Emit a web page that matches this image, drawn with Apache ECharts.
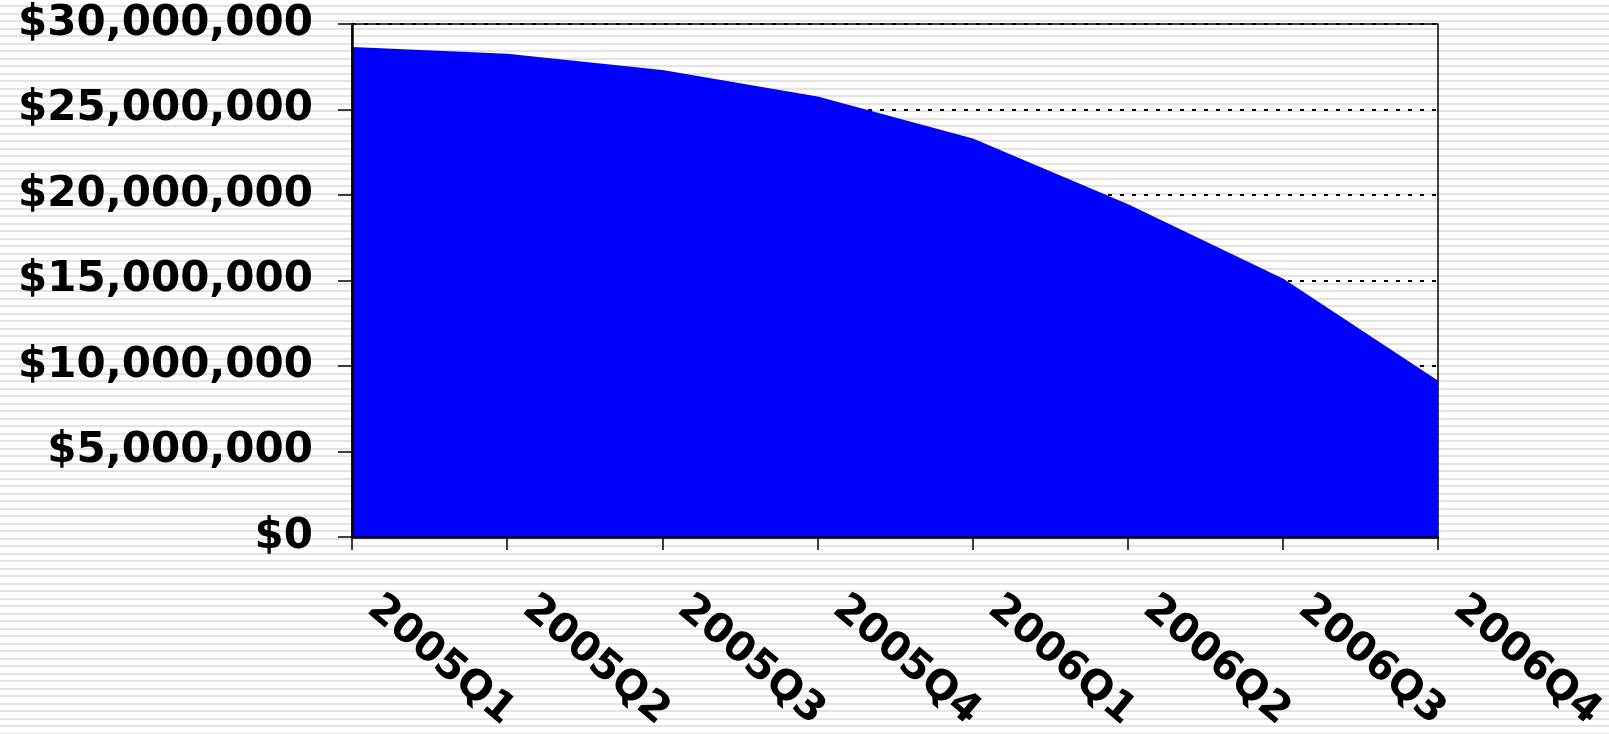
<!DOCTYPE html>
<html>
<head>
<meta charset="utf-8">
<script src="https://cdn.jsdelivr.net/npm/echarts@6/dist/echarts.min.js"></script>
<style>
  html, body {
    margin: 0;
    padding: 0;
    width: 1609px;
    height: 734px;
    background-color: #fff;
    background-image: repeating-linear-gradient(to bottom, #fff 0px, #fff 5.5px, #e3e3e3 5.5px, #e3e3e3 7.5px);
  }
  #chart { width: 1609px; height: 734px; }
</style>
</head>
<body>
<div id="chart"></div>
<script>
// quarters on the x axis
const quarters = ['2005Q1', '2005Q2', '2005Q3', '2005Q4', '2006Q1', '2006Q2', '2006Q3', '2006Q4']
// value per quarter
const values = [28600000, 28200000, 27250000, 25700000, 23250000, 19400000, 15050000, 9080000]
// y axis range
const yMin = 0
const yMax = 30000000
const yStep = 5000000

const labelFont = 'DejaVu Sans'

function money(v) {
  return '$' + String(v).replace(/\B(?=(\d{3})+(?!\d))/g, ',')
}

const chart = echarts.init(document.getElementById('chart'), null, { renderer: 'canvas' })

chart.setOption({
  animation: false,
  backgroundColor: 'transparent',
  grid: {
    left: 352,
    top: 24,
    right: 171,
    bottom: 197,
    containLabel: false,
    outerBoundsMode: 'none',
    show: true,
    backgroundColor: 'transparent',
    borderColor: '#000',
    borderWidth: 1.5
  },
  xAxis: {
    type: 'category',
    data: quarters,
    boundaryGap: false,
    z: 10,
    axisLine: { lineStyle: { color: '#000', width: 2.5 } },
    axisTick: { show: true, length: 13, lineStyle: { color: '#000', width: 1.5 } },
    axisLabel: {
      interval: 0,
      rotate: -40,
      margin: 49,
      padding: [0, 0, 0, 27],
      color: '#000',
      fontFamily: labelFont,
      fontWeight: 'bold',
      fontSize: 41
    },
    splitLine: { show: false }
  },
  yAxis: [
    {
      // only the dotted grid lines, kept behind the area
      type: 'value',
      min: yMin,
      max: yMax,
      interval: yStep,
      axisLine: { show: false },
      axisTick: { show: false },
      axisLabel: { show: false },
      splitLine: { lineStyle: { color: '#000', width: 2, type: [4, 8] } }
    },
    {
      // axis line, ticks and labels drawn on top
      type: 'value',
      position: 'left',
      min: yMin,
      max: yMax,
      interval: yStep,
      z: 10,
      axisLine: { show: true, lineStyle: { color: '#000', width: 2.5 } },
      axisTick: { show: true, inside: false, length: 14, lineStyle: { color: '#000', width: 1.5 } },
      axisLabel: {
        margin: 39,
        color: '#000',
        fontFamily: labelFont,
        fontWeight: 'bold',
        fontSize: 42,
        formatter: money
      },
      splitLine: { show: false }
    }
  ],
  series: [
    {
      type: 'line',
      yAxisIndex: 0,
      data: values,
      showSymbol: false,
      lineStyle: { color: '#0000ff', width: 2 },
      areaStyle: { color: '#0000ff', opacity: 1 },
      z: 2
    }
  ]
})
</script>
</body>
</html>
